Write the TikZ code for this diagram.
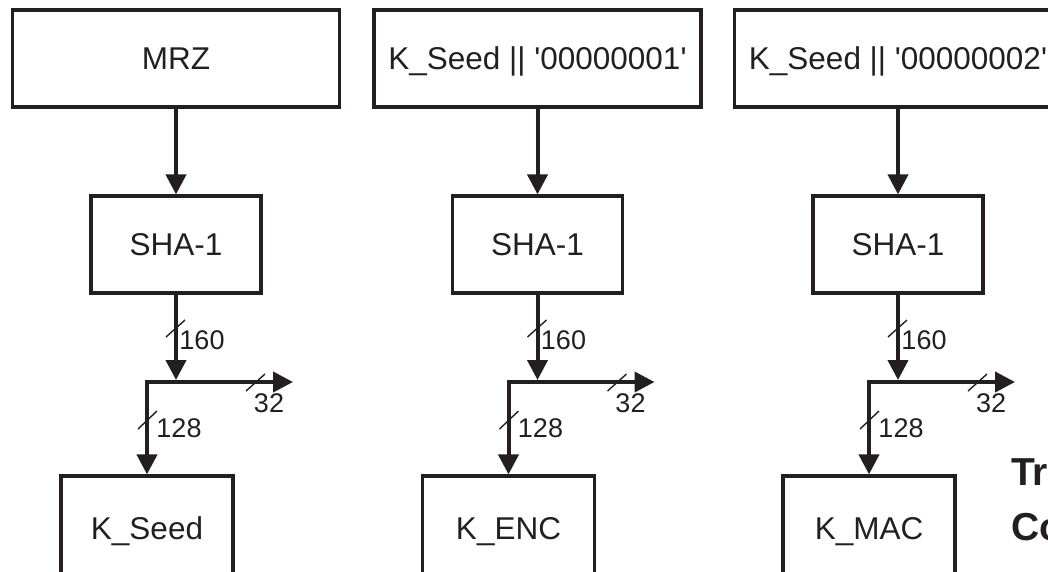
\documentclass[tikz,border=0pt]{standalone}
\usepackage{fontspec}
\setmainfont{Liberation Sans}
\usetikzlibrary{arrows.meta}
\definecolor{ink}{HTML}{231F20}

\begin{document}
\begin{tikzpicture}[x=1pt, y=-1pt, color=ink,
  >={Triangle[width=20pt,length=20pt]},
  box/.style={draw=ink, line width=3.2pt, inner sep=0pt, minimum height=97pt,
    text height=22.4pt, text depth=0pt, font=\fontsize{31.5}{36}\selectfont},
  flow/.style={draw=ink, line width=4pt, ->},
  split/.style={draw=ink, line width=4pt, <->},
  tick/.style={line width=1.4pt},
  bits/.style={inner sep=0pt, text height=19.4pt, text depth=0pt, font=\fontsize{27}{30}\selectfont}]
  \useasboundingbox (0,0) rectangle (1048,571);
  \clip (0,0) rectangle (1048,571);
  % one column per derived key
  \foreach \n/\c/\src/\key in {1/176/MRZ/K\_Seed,
      2/537.5/{K\_Seed || \textquotesingle 00000001\textquotesingle}/K\_ENC,
      3/898/{K\_Seed || \textquotesingle 00000002\textquotesingle}/K\_MAC} {
    \node[box, minimum width=327pt] (src\n) at (\c,58.5) {\src};
    \node[box, minimum width=170pt] (sha\n) at (\c,244.5) {SHA-1};
    \node[box, minimum width=172pt, minimum height=104pt] (key\n) at (\c-29,528) {\key};
    \coordinate (in\n) at (\c,380);
    \coordinate (out\n) at (\c+117,382);
    \draw[flow] (src\n) -- (sha\n);
    \draw[flow] (sha\n) -- (in\n);
    \draw[split] (out\n) -| (key\n);
    % bus widths
    \draw[tick] (\c-10,337) -- ++(19,-17);
    \draw[tick] (\c+70,391) -- ++(19,-17);
    \draw[tick] (\c-38,429) -- ++(19,-18);
    \node[bits] (w160\n) at (\c+26,340) {160};
    \node[bits] (w32\n) at (\c+93,403) {32};
    \node[bits] (w128\n) at (\c+3,428) {128};
  }
  \node[anchor=base west, inner sep=0pt, font=\bfseries\fontsize{39}{44}\selectfont] (tr) at (1011,485) {Tr};
  \node[anchor=base west, inner sep=0pt, font=\bfseries\fontsize{39}{44}\selectfont] (co) at (1011,540) {Co};
\end{tikzpicture}
\end{document}
